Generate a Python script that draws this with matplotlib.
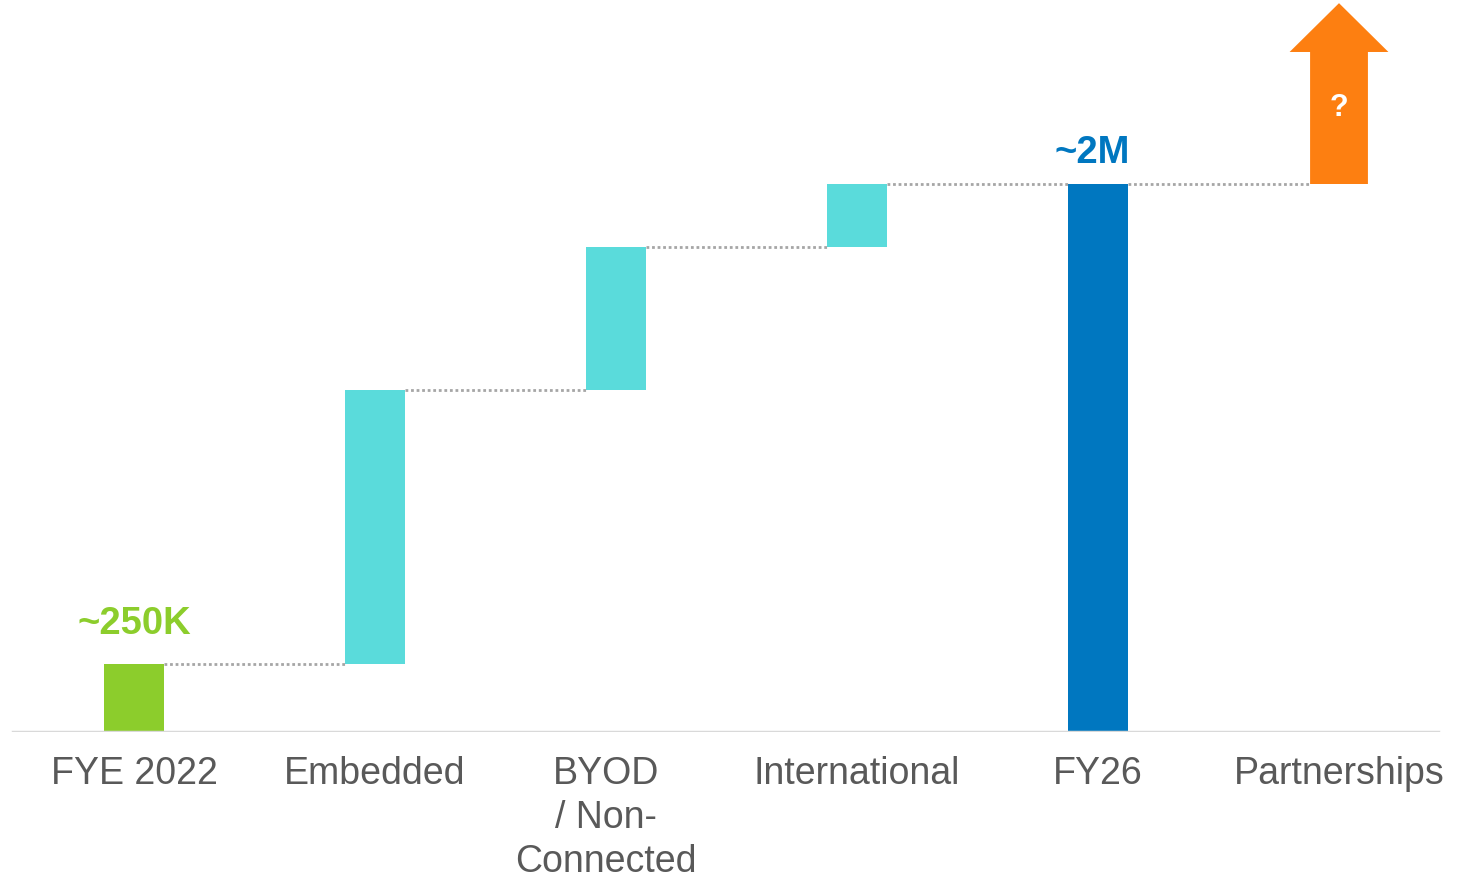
import numpy as np
import matplotlib.pyplot as plt
from matplotlib.patches import Polygon
from matplotlib.transforms import ScaledTranslation

plt.rcParams['font.family'] = ['Liberation Sans', 'DejaVu Sans']

# subscriber build-up, in thousands
categories = ["FYE 2022", "Embedded", "BYOD\n/ Non-\nConnected", "International", "FY26", "Partnerships"]
start_value = 250
steps = [1000, 520, 230]          # Embedded, BYOD, International
end_value = 2000
value_labels = ["~250K", "~2M"]
upside_label = "?"

GREEN = "#8ccd2c"
CYAN = "#5adbdb"
BLUE = "#0077c0"
ORANGE = "#fd7f11"
GRAY_TEXT = "#595959"
GRAY_DOTS = "#a6a6a6"

BAR_W = 0.25
ARROW_H = 660       # arrow length above FY26, same units as the bars


def main():
    fig = plt.figure(figsize=(14.73, 8.81), dpi=100)
    ax = fig.add_axes([0, 149 / 881, 1, 732 / 881])
    x = np.arange(len(categories))

    # first and last totals
    ax.bar(x[0], start_value, width=BAR_W, color=GREEN)
    ax.bar(x[4], end_value, width=BAR_W, color=BLUE)

    # floating increments
    bottoms = start_value + np.concatenate([[0], np.cumsum(steps)[:-1]])
    ax.bar(x[1:4], steps, bottom=bottoms, width=BAR_W, color=CYAN)

    # dotted connectors between bars
    levels = [start_value] + list(start_value + np.cumsum(steps)) + [end_value]
    for i, lev in enumerate(levels):
        ax.plot([x[i] + BAR_W / 2, x[i + 1] - BAR_W / 2 * (0.97 if i == 4 else 1)],
                [lev, lev], color=GRAY_DOTS, lw=2, ls=(0, (1, 1)), zorder=1)

    # upside arrow for partnerships
    sw = 0.24 / 2
    hw = 0.41 / 2
    head = ARROW_H * 0.27
    cx = x[5]
    y0 = end_value
    y1 = end_value + ARROW_H
    pts = [(cx - sw, y0), (cx + sw, y0), (cx + sw, y1 - head), (cx + hw, y1 - head),
           (cx, y1), (cx - hw, y1 - head), (cx - sw, y1 - head)]
    ax.add_patch(Polygon(pts, closed=True, color=ORANGE, lw=0))
    ax.text(cx, y0 + ARROW_H * 0.42, upside_label, color="white", fontsize=22,
            fontweight="bold", ha="center", va="center")

    # value call-outs
    ax.annotate(value_labels[0], (x[0], start_value), xytext=(0, 21),
                textcoords="offset points", ha="center", va="baseline",
                fontsize=27.5, fontweight="bold", color=GREEN)
    ax.annotate(value_labels[1], (x[4] - 0.025, end_value), xytext=(0, 15),
                textcoords="offset points", ha="center", va="baseline",
                fontsize=27.5, fontweight="bold", color=BLUE)

    # baseline
    ax.axhline(0, xmin=13 / 1473, xmax=1438 / 1473, color="#d9d9d9", lw=2.5, zorder=3)

    ax.set_xlim(-0.556, 5.556)
    ax.set_ylim(0, end_value * 732 / 548)
    ax.set_xticks(x)
    ax.set_xticklabels(categories, fontsize=27, color=GRAY_TEXT, linespacing=1.3)
    ax.tick_params(axis="x", length=0, pad=17)
    # the three-line label sits a little left of its bar
    lbl = ax.get_xticklabels()[2]
    lbl.set_transform(lbl.get_transform() + ScaledTranslation(-0.1, 0, fig.dpi_scale_trans))
    ax.set_yticks([])
    for s in ax.spines.values():
        s.set_visible(False)

    fig.savefig("out.png", dpi=100)


if __name__ == "__main__":
    main()
